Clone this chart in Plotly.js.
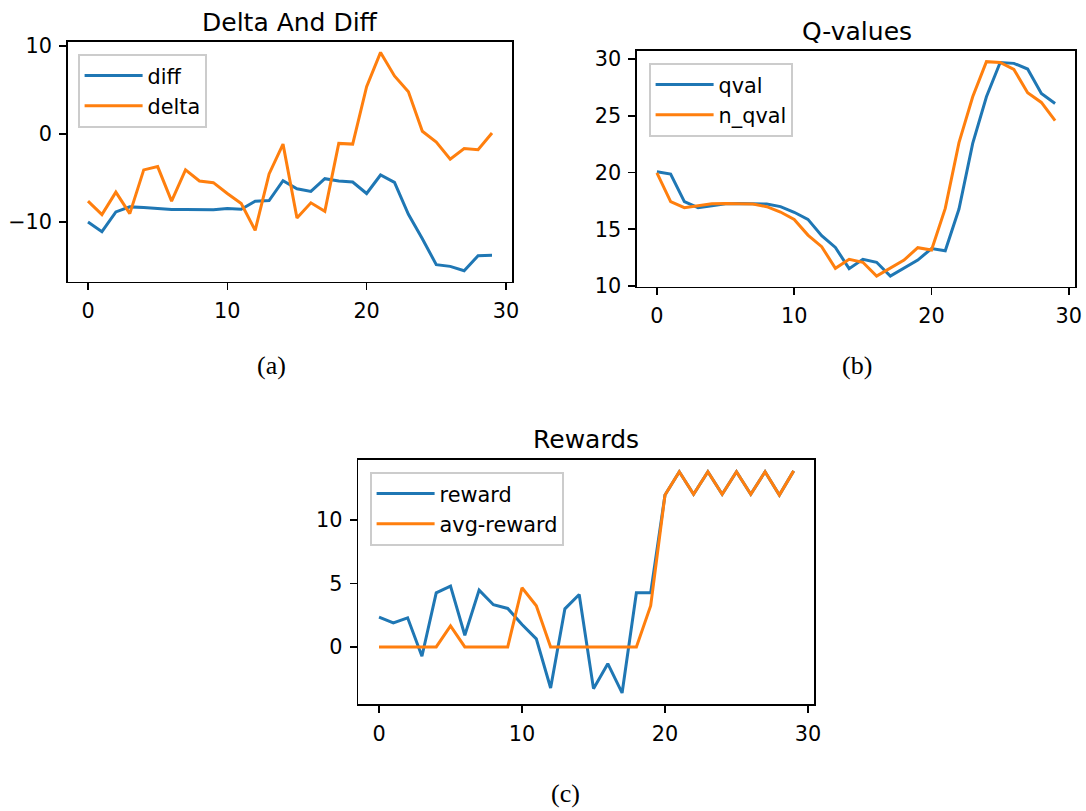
<!DOCTYPE html>
<html>
<head>
<meta charset="utf-8">
<script src="https://cdn.plot.ly/plotly-3.0.1.min.js"></script>
<style>html,body{margin:0;padding:0;background:#fff;}#chart{width:1086px;height:811px;}</style>
</head>
<body>
<div id="chart"></div>
<script>
// ---- data ----
const steps = Array.from({length: 30}, (_, i) => i);

const diff = [-10.0, -11.1, -8.85, -8.28, -8.36, -8.47, -8.59, -8.59, -8.62, -8.6,
  -8.47, -8.55, -7.63, -7.56, -5.31, -6.22, -6.53, -5.08, -5.34, -5.46,
  -6.76, -4.66, -5.5, -9.12, -11.9, -14.85, -15.04, -15.53, -13.82, -13.78];
const delta = [-7.63, -9.16, -6.6, -9.05, -4.08, -3.7, -7.63, -4.08, -5.34, -5.53,
  -6.76, -7.9, -10.95, -4.54, -1.15, -9.54, -7.82, -8.78, -1.07, -1.15,
  5.38, 9.27, 6.6, 4.81, 0.31, -0.92, -2.86, -1.64, -1.79, 0.11];

const qval = [20.07, 19.87, 17.43, 16.9, 17.08, 17.25, 17.28, 17.28, 17.22, 17.0,
  16.5, 15.87, 14.43, 13.4, 11.53, 12.35, 12.09, 10.88, 11.59, 12.29,
  13.3, 13.11, 16.78, 22.57, 26.68, 29.7, 29.62, 29.12, 26.97, 26.09];
const n_qval = [19.98, 17.43, 16.9, 17.08, 17.25, 17.28, 17.28, 17.22, 16.99, 16.52,
  15.87, 14.49, 13.47, 11.56, 12.35, 12.09, 10.88, 11.56, 12.29, 13.38,
  13.17, 16.84, 22.63, 26.68, 29.77, 29.7, 29.09, 27.03, 26.18, 24.57];

const reward = [2.34, 1.89, 2.29, -0.74, 4.26, 4.79, 0.92, 4.47, 3.32, 3.03,
  1.76, 0.63, -3.24, 3.0, 4.13, -3.29, -1.32, -3.63, 4.26, 4.26,
  11.97, 13.8, 12.03, 13.8, 12.03, 13.8, 12.03, 13.8, 11.97, 13.87];
const avg_reward = [0, 0, 0, 0, 0, 1.66, 0, 0, 0, 0,
  4.66, 3.24, 0, 0, 0, 0, 0, 0, 0, 3.24,
  11.97, 13.8, 12.03, 13.8, 12.03, 13.8, 12.03, 13.8, 11.97, 13.87];

const titles = ["Delta And Diff", "Q-values", "Rewards"];
const captions = ["(a)", "(b)", "(c)"];
const xTicks = [0, 10, 20, 30];

// ---- styling ----
const W = 1086, H = 811;
const BLUE = "#1f77b4", ORANGE = "#ff7f0e";
const FONT = "DejaVu Sans, sans-serif";
const px = v => v / W;
const py = v => 1 - v / H;

function line(x, y, name, color, xa, ya, lg) {
  return {x: x, y: y, name: name, type: "scatter", mode: "lines",
    line: {color: color, width: 3}, xaxis: xa, yaxis: ya, legend: lg};
}

const traces = [
  line(steps, diff, "diff", BLUE, "x", "y", "legend"),
  line(steps, delta, "delta", ORANGE, "x", "y", "legend"),
  line(steps, qval, "qval", BLUE, "x2", "y2", "legend2"),
  line(steps, n_qval, "n_qval", ORANGE, "x2", "y2", "legend2"),
  line(steps, reward, "reward", BLUE, "x3", "y3", "legend3"),
  line(steps, avg_reward, "avg-reward", ORANGE, "x3", "y3", "legend3")
];

function axis(domain, range, tickvals, anchor) {
  return {domain: domain, range: range, tickvals: tickvals, anchor: anchor,
    showgrid: false, zeroline: false, showline: true, mirror: true,
    linecolor: "#000", linewidth: 1.6, ticks: "outside", ticklen: 7, tickwidth: 1.6,
    tickcolor: "#000", ticklabelstandoff: 3,
    tickfont: {family: FONT, size: 20.8, color: "#000"}};
}

function legend(x, y) {
  return {x: x, y: y, xanchor: "left", yanchor: "top", xref: "paper", yref: "paper",
    bgcolor: "rgba(255,255,255,0.85)", bordercolor: "#cccccc", borderwidth: 1.6,
    itemwidth: 58,
    font: {family: FONT, size: 20.8, color: "#000"}};
}

const layout = {
  width: W, height: H, autosize: false,
  margin: {l: 0, r: 0, t: 0, b: 0},
  paper_bgcolor: "#fff", plot_bgcolor: "#fff",
  showlegend: true,
  xaxis: axis([px(67.8), px(512.2)], [-1.45, 30.45], xTicks, "y"),
  yaxis: axis([py(281.6), py(41.5)], [-16.77, 10.51], [-10, 0, 10], "x"),
  xaxis2: axis([px(637), px(1075)], [-1.45, 30.45], xTicks, "y2"),
  yaxis2: axis([py(286.7), py(51)], [9.94, 30.71], [10, 15, 20, 25, 30], "x2"),
  xaxis3: axis([px(358.3), px(814.4)], [-1.45, 30.45], xTicks, "y3"),
  yaxis3: axis([py(704), py(459.7)], [-4.5, 14.75], [0, 5, 10], "x3"),
  legend: legend(px(78), py(54)),
  legend2: legend(px(649), py(63)),
  legend3: legend(px(370), py(472)),
  annotations: [
    {text: titles[0], x: px(290), y: py(22), xanchor: "center", yanchor: "middle"},
    {text: titles[1], x: px(857), y: py(31), xanchor: "center", yanchor: "middle"},
    {text: titles[2], x: px(586), y: py(439), xanchor: "center", yanchor: "middle"}
  ].map(a => Object.assign(a, {xref: "paper", yref: "paper", showarrow: false,
      font: {family: FONT, size: 25, color: "#000"}}))
    .concat([
    {text: captions[0], x: px(271), y: py(366)},
    {text: captions[1], x: px(857), y: py(366)},
    {text: captions[2], x: px(565), y: py(793)}
  ].map(a => Object.assign(a, {xref: "paper", yref: "paper", showarrow: false,
      xanchor: "center", yanchor: "middle",
      font: {family: "Liberation Serif, DejaVu Serif, serif", size: 26, color: "#000"}})))
};

Plotly.newPlot("chart", traces, layout, {displayModeBar: false, staticPlot: true});
</script>
</body>
</html>
